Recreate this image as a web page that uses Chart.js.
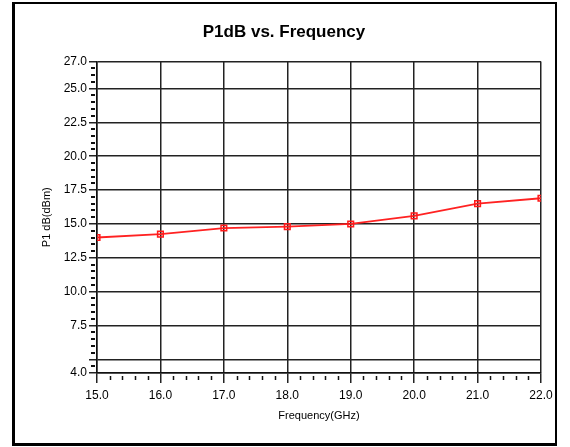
<!DOCTYPE html>
<html>
<head>
<meta charset="utf-8">
<script src="https://cdn.jsdelivr.net/npm/chart.js@4"></script>
<style>
  html, body { margin: 0; padding: 0; background: #fff; }
  canvas { display: block; }
</style>
</head>
<body>
<canvas id="p1dbChart" width="570" height="447"></canvas>
<script>
const frequencies = [15, 16, 17, 18, 19, 20, 21, 22];
const p1dbValues = [14.0, 14.25, 14.7, 14.8, 15.0, 15.6, 16.5, 16.9];
const xTicks = [15, 16, 17, 18, 19, 20, 21, 22];
const yTicks = [4, 5, 7.5, 10, 12.5, 15, 17.5, 20, 22.5, 25, 27];
const yHiddenLabels = [5];

const FONT = "'Liberation Sans', Arial, sans-serif";

// white background + outer frame
const framePlugin = {
  id: "frame",
  beforeDraw(chart) {
    const ctx = chart.ctx;
    ctx.save();
    ctx.fillStyle = "#fff";
    ctx.fillRect(0, 0, chart.width, chart.height);
    ctx.fillStyle = "#000";
    ctx.fillRect(12, 2, 545, 2);      // top
    ctx.fillRect(555, 2, 2, 444);     // right
    ctx.fillRect(12, 2, 3, 444);      // left
    ctx.fillRect(12, 443, 545, 3);    // bottom
    ctx.restore();
  }
};

// small minor tick marks outside the plot
const minorTicks = {
  id: "minorTicks",
  afterDraw(chart) {
    const ctx = chart.ctx;
    const xs = chart.scales.x, ys = chart.scales.y;
    ctx.save();
    ctx.strokeStyle = "#111";
    ctx.lineWidth = 2;
    ctx.beginPath();
    for (let i = 8; i <= 54; i++) {
      const v = i / 2;
      if (yTicks.includes(v)) continue;
      const py = Math.round(ys.getPixelForValue(v));
      ctx.moveTo(ys.right - 6, py);
      ctx.lineTo(ys.right - 2, py);
    }
    ctx.stroke();
    ctx.lineWidth = 1.5;
    ctx.beginPath();
    for (let i = 0; i <= 35; i++) {
      const v = 15 + i / 5;
      if (Number.isInteger(Math.round(v * 1000) / 1000)) continue;
      const px = Math.round(xs.getPixelForValue(v)) + 0.5;
      ctx.moveTo(px, xs.top + 3);
      ctx.lineTo(px, xs.top + 7);
    }
    ctx.stroke();
    ctx.restore();
  }
};

new Chart(document.getElementById("p1dbChart"), {
  type: "line",
  data: {
    datasets: [{
      label: "P1dB",
      data: frequencies.map((f, i) => ({ x: f, y: p1dbValues[i] })),
      borderColor: "#ff2222",
      borderWidth: 1.8,
      backgroundColor: "rgba(255,0,0,0.12)",
      pointStyle: "rect",
      pointRadius: 4,
      pointBorderWidth: 1.5,
      pointBorderColor: "#ff1a1a",
      tension: 0
    }]
  },
  options: {
    responsive: false,
    animation: false,
    layout: { padding: { left: 27, right: 29, top: 0, bottom: 19 } },
    plugins: {
      legend: { display: false },
      tooltip: { enabled: false },
      title: {
        display: true,
        text: "P1dB vs. Frequency",
        color: "#000",
        font: { family: FONT, size: 17, weight: "bold" },
        padding: { top: 22, bottom: 19 }
      }
    },
    scales: {
      x: {
        type: "linear",
        min: 15,
        max: 22,
        afterBuildTicks: s => { s.ticks = xTicks.map(v => ({ value: v })); },
        afterFit: s => { s.height = 55; },
        grid: { color: "#222", lineWidth: 1.5, tickLength: 10 },
        border: { color: "#111", width: 1.5 },
        ticks: {
          color: "#000",
          font: { family: FONT, size: 12 },
          padding: 5,
          maxRotation: 0,
          callback: v => Number(v).toFixed(1)
        },
        title: {
          display: true,
          text: "Frequency(GHz)",
          color: "#000",
          font: { family: FONT, size: 11 },
          padding: { top: 0, bottom: 5 }
        }
      },
      y: {
        type: "linear",
        min: 4,
        max: 27,
        afterBuildTicks: s => { s.ticks = yTicks.map(v => ({ value: v })); },
        afterFit: s => { s.width = 70; },
        grid: { color: "#222", lineWidth: 1.5, tickLength: 8 },
        border: { color: "#111", width: 1.5 },
        ticks: {
          color: "#000",
          font: { family: FONT, size: 12 },
          padding: 2,
          callback: v => yHiddenLabels.includes(v) ? "" : Number(v).toFixed(1)
        },
        title: {
          display: true,
          text: "P1 dB(dBm)",
          color: "#000",
          font: { family: FONT, size: 11 },
          padding: { top: 13, bottom: 0 }
        }
      }
    }
  },
  plugins: [framePlugin, minorTicks]
});
</script>
</body>
</html>
